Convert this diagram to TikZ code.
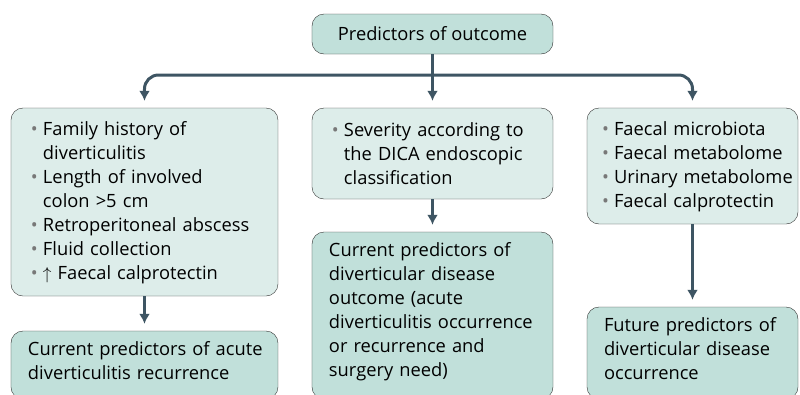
\documentclass[tikz,border=0pt]{standalone}
\usepackage{fontspec}
\setmainfont{Open Sans}
\definecolor{boxteal}{RGB}{193,224,218}
\definecolor{boxpale}{RGB}{221,237,234}
\definecolor{boxedge}{RGB}{50,50,50}
\definecolor{arrowslate}{RGB}{62,85,99}
\definecolor{dotgray}{RGB}{120,120,120}
\usetikzlibrary{shapes,arrows,arrows.meta}
\newlength{\bulletgap}\setlength{\bulletgap}{12pt}
\newcommand{\bpoint}[2][0pt]{\par\hangindent=\dimexpr#1+\bulletgap\relax\hangafter=1\noindent\hspace*{#1}\makebox[\bulletgap][l]{\textcolor{dotgray}{\textbullet}}#2\par}
\newcommand{\boxfont}{\fontsize{18.3}{24}\selectfont}
\newcommand{\tailpad}[1]{\endgraf\vspace*{#1}}
\newcommand{\hangover}{\rightskip=-12pt plus 1fil\relax}
\tikzstyle{header} = [rectangle, draw=boxedge, fill=boxteal, rounded corners=12pt,
    minimum width=241pt, minimum height=40pt, font=\boxfont]
\tikzstyle{listbox} = [rectangle, draw=boxedge, fill=boxpale, rounded corners=12pt,
    inner xsep=20pt, inner ysep=0pt, align=left, font=\boxfont,
    execute at begin node=\hangover, execute at end node=\tailpad{9pt}]
\tikzstyle{outbox} = [rectangle, draw=boxedge, fill=boxteal, rounded corners=12pt,
    inner xsep=17pt, inner ysep=0pt, align=left, font=\boxfont,
    execute at begin node=\hangover, execute at end node=\tailpad{8pt}]
\tikzstyle{line} = [draw=arrowslate, line width=3pt, -{Latex[length=10pt,width=11pt]}, shorten >=7pt]

\begin{document}
\begin{tikzpicture}[node distance = 3cm, auto]
  \useasboundingbox (-432.5pt,-360pt) rectangle (367.5pt,34pt);
  \node [header] (outcome) {Predictors of outcome};
  \node [listbox, below of=outcome, node distance=119.5pt, text width=201pt, minimum height=91pt] (severity) {\bpoint{Severity according to\newline the DICA endoscopic\newline classification}};
  \node [listbox, left of=severity, node distance=288pt, yshift=-48.5pt, text width=227pt, minimum height=188pt] (famhist) {\bpoint{Family history of\newline diverticulitis}
    \bpoint{Length of involved\newline colon >5 cm}
    \bpoint{Retroperitoneal abscess}
    \bpoint{Fluid collection}
    \bpoint{$\uparrow$ Faecal calprotectin}};
  \node [listbox, right of=severity, node distance=260pt, yshift=-12.5pt, inner xsep=3pt, text width=205pt, minimum height=116pt] (microbiota) {\bpoint[12pt]{Faecal microbiota}
    \bpoint[12pt]{Faecal metabolome}
    \bpoint[12pt]{Urinary metabolome}
    \bpoint[12pt]{Faecal calprotectin}};
  \coordinate [below of=outcome, node distance=41pt] (split);
  \path [line] (outcome) -- (severity);
  \path [line, rounded corners=14pt] (split) -| (famhist);
  \path [line, rounded corners=14pt] (split) -| (microbiota);
  \node [outbox, below of=famhist, node distance=163pt, text width=233pt, minimum height=68pt] (acute) {Current predictors of acute\\diverticulitis recurrence};
  \path [line] (famhist) -- (acute);
  \node [outbox, below of=severity, node distance=162pt, text width=207pt, minimum height=167pt] (current) {Current predictors of\\diverticular disease\\outcome (acute\\diverticulitis occurrence\\or recurrence and\\surgery need)};
  \path [line] (severity) -- (current);
  \node [outbox, below of=microbiota, node distance=187pt, text width=177pt, minimum height=92pt] (future) {Future predictors of\\diverticular disease\\occurrence};
  \path [line] (microbiota) -- (future);
\end{tikzpicture}
\end{document}
